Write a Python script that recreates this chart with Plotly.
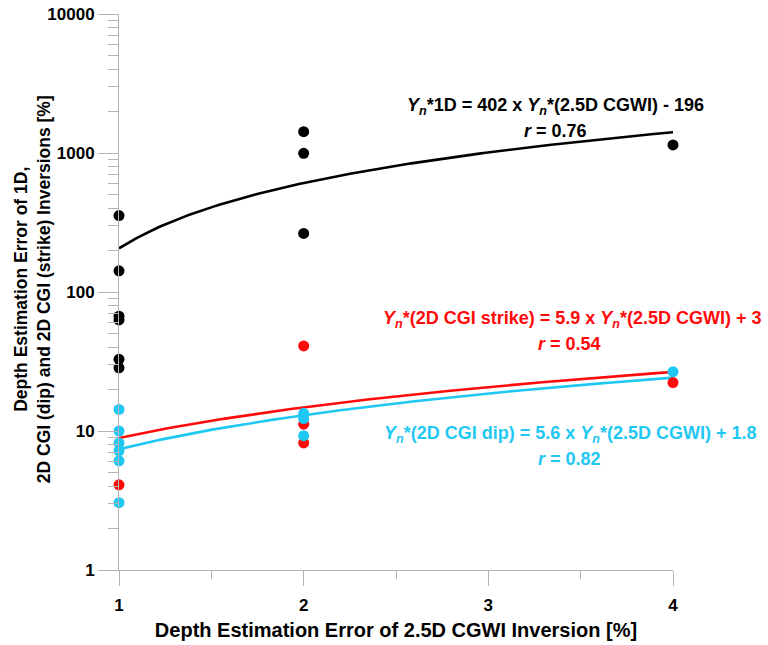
import plotly.graph_objects as go
import numpy as np

# Data
x_1d = [1, 1, 1, 1, 1, 1, 2, 2, 2, 4]
y_1d = [355, 142, 67, 63, 32.8, 28.5, 1423, 995, 264, 1142]

x_strike = [1, 2, 2, 2, 4]
y_strike = [4.1, 40.9, 11.2, 8.2, 22.3]

x_dip = [1, 1, 1, 1, 1, 1, 2, 2, 2, 4]
y_dip = [14.3, 10.0, 8.2, 7.2, 6.1, 3.05, 13.4, 12.3, 9.25, 26.7]

# Regression coefficients (slope, intercept) as printed on the chart
fit_1d = (402, -196)
fit_strike = (5.9, 3)
fit_dip = (5.6, 1.8)

x_ticks = [1, 2, 3, 4]
y_ticks = [1, 10, 100, 1000, 10000]

BLACK = "#000000"
RED = "#ff0a0a"
CYAN = "#1ec8f2"
GRAY = "#b4b4b4"
FONT = "Liberation Sans, Arial, sans-serif"

xf = np.linspace(1, 4, 200)

fig = go.Figure()

def add_fit(coef, color):
    fig.add_trace(go.Scatter(x=xf, y=coef[0] * xf + coef[1], mode="lines",
                             line=dict(color=color, width=2.6),
                             showlegend=False, hoverinfo="skip", cliponaxis=False))

def add_pts(xs, ys, color):
    fig.add_trace(go.Scatter(x=xs, y=ys, mode="markers",
                             marker=dict(color=color, size=11),
                             showlegend=False, cliponaxis=False))

add_fit(fit_1d, BLACK)
add_fit(fit_strike, RED)
add_fit(fit_dip, CYAN)
add_pts(x_1d, y_1d, BLACK)
add_pts(x_strike, y_strike, RED)
add_pts(x_dip, y_dip, CYAN)

Yn = "<i>Y<sub>n</sub></i>"
ann = [
    (3.366, 3.331, f"<b>{Yn}*1D = 402 x {Yn}*(2.5D CGWI) - 196</b>", BLACK),
    (3.366, 3.158, "<b><i>r</i> = 0.76</b>", BLACK),
    (3.458, 1.799, f"<b>{Yn}*(2D CGI strike) = 5.9 x {Yn}*(2.5D CGWI) + 3</b>", RED),
    (3.44, 1.626, "<b><i>r</i> = 0.54</b>", RED),
    (3.447, 0.978, f"<b>{Yn}*(2D CGI dip) = 5.6 x {Yn}*(2.5D CGWI) + 1.8</b>", CYAN),
    (3.44, 0.799, "<b><i>r</i> = 0.82</b>", CYAN),
]
for x, y, t, c in ann:
    fig.add_annotation(x=x, y=y, text=t, showarrow=False, xanchor="center", yanchor="middle",
                       font=dict(family=FONT, size=18, color=c))

fig.add_annotation(xref="paper", yref="paper", x=-0.157, y=0.505, textangle=-90,
                   text="<b>Depth Estimation Error of 1D,<br>2D CGI (dip) and 2D CGI (strike) Inversions [%]</b>",
                   showarrow=False, xanchor="center", yanchor="middle",
                   font=dict(family=FONT, size=17.5, color=BLACK))

fig.update_layout(
    width=768, height=645,
    margin=dict(l=119, r=95, t=14, b=75),
    paper_bgcolor="white", plot_bgcolor="white",
    font=dict(family=FONT, size=17, color=BLACK),
    xaxis=dict(range=[1, 4], tickvals=x_ticks, ticktext=[f"<b>{v}</b>" for v in x_ticks],
               automargin=False,
               showgrid=False, zeroline=False, showline=True, linecolor=GRAY, linewidth=1,
               ticks="outside", ticklen=15, tickcolor=GRAY, tickwidth=1, ticklabelstandoff=5,
               minor=dict(dtick=0.5, ticks="outside", ticklen=8, tickcolor=GRAY, showgrid=False),
               title=dict(text="<b>Depth Estimation Error of 2.5D CGWI Inversion [%]</b>",
                          font=dict(family=FONT, size=20), standoff=8)),
    yaxis=dict(type="log", range=[0, 4], tickvals=y_ticks,
               ticktext=[f"<b>{v}</b>" for v in y_ticks], automargin=False,
               showgrid=False, zeroline=False, showline=True, linecolor=GRAY, linewidth=1,
               ticks="outside", ticklen=20, tickcolor=GRAY, tickwidth=1,
               minor=dict(dtick="D1", ticks="outside", ticklen=10, tickcolor=GRAY, showgrid=False)),
)

fig.write_html("out.html")
